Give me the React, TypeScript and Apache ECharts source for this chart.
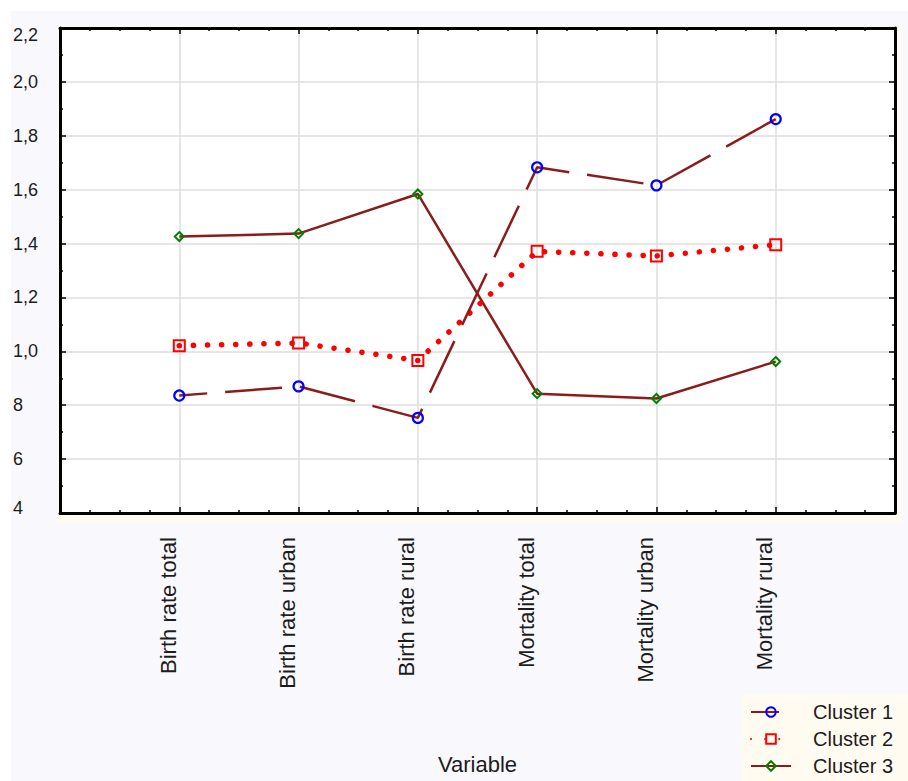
import React, { useEffect, useRef } from "react";
import * as echarts from "echarts";

const categories = [
  "Birth rate total",
  "Birth rate urban",
  "Birth rate rural",
  "Mortality total",
  "Mortality urban",
  "Mortality rural",
];
const seriesNames = ["Cluster 1", "Cluster 2", "Cluster 3"];
const cluster1 = [0.836, 0.87, 0.753, 1.683, 1.616, 1.862];
const cluster2 = [1.021, 1.031, 0.966, 1.371, 1.354, 1.396];
const cluster3 = [1.426, 1.437, 1.584, 0.843, 0.825, 0.962];
const yTickLabels = ["4", "6", "8", "1,0", "1,2", "1,4", "1,6", "1,8", "2,0", "2,2"];
const axisTitle = "Variable";

const Y_MIN = 0.4;
const Y_MAX = 2.2;
const Y_STEP = 0.2;

const FONT = "'Liberation Sans', Arial, sans-serif";
const TEXT = "#1c1c1c";
const LINE = "#8b1c1c";

export default function App() {
  const ref = useRef<HTMLDivElement>(null);

  useEffect(() => {
    if (!ref.current) return;
    const chart = echarts.init(ref.current, undefined, { renderer: "svg" });

    const toPoints = (vals: number[]) => vals.map((v, i) => [i + 1, v]);

    const frameAxisCommon = {
      type: "value" as const,
      axisLine: { show: true, onZero: false, lineStyle: { color: "#000", width: 3 } },
      axisTick: { show: true, inside: true, length: 6, lineStyle: { color: "#000", width: 1.5 } },
      minorTick: { show: true, length: 3, lineStyle: { color: "#000", width: 1.5 } },
    };

    const option: any = {
      animation: false,
      grid: {
        left: 60,
        right: 13,
        top: 28,
        bottom: 268,
        show: true,
        backgroundColor: "#ffffff",
        borderWidth: 0,
      },
      xAxis: [
        {
          ...frameAxisCommon,
          position: "bottom",
          min: 0,
          max: 7,
          interval: 1,
          minorTick: { ...frameAxisCommon.minorTick, splitNumber: 4 },
          splitLine: { show: true, lineStyle: { color: "#dedede", width: 1.5 } },
          axisLabel: {
            show: true,
            rotate: 90,
            margin: 24,
            verticalAlign: "bottom",
            fontSize: 22,
            fontFamily: FONT,
            color: TEXT,
            formatter: (v: number) => categories[Math.round(v) - 1] ?? "",
          },
          name: axisTitle,
          nameLocation: "middle",
          nameGap: 240,
          nameTextStyle: { fontSize: 22, fontFamily: FONT, color: TEXT },
        },
        {
          ...frameAxisCommon,
          position: "top",
          min: 0,
          max: 7,
          interval: 1,
          minorTick: { ...frameAxisCommon.minorTick, splitNumber: 4 },
          splitLine: { show: false },
          axisLabel: { show: false },
        },
      ],
      yAxis: [
        {
          ...frameAxisCommon,
          position: "left",
          min: Y_MIN,
          max: Y_MAX,
          interval: Y_STEP,
          minorTick: { ...frameAxisCommon.minorTick, splitNumber: 2 },
          splitLine: { show: true, lineStyle: { color: "#dedede", width: 1.5 } },
          axisLabel: {
            show: true,
            align: "left",
            margin: 47,
            fontSize: 18,
            fontFamily: FONT,
            color: TEXT,
            formatter: (v: number) => {
              const i = Math.round((v - Y_MIN) / Y_STEP);
              const t = yTickLabels[i] ?? "";
              if (i === yTickLabels.length - 1) return "{top|" + t + "}";
              if (i === 0) return "{bot|" + t + "}";
              return t;
            },
            rich: {
              top: { padding: [14, 0, 0, 0], fontSize: 18, fontFamily: FONT, color: TEXT },
              bot: { padding: [0, 0, 10, 0], fontSize: 18, fontFamily: FONT, color: TEXT },
            },
          },
        },
        {
          ...frameAxisCommon,
          position: "right",
          min: Y_MIN,
          max: Y_MAX,
          interval: Y_STEP,
          minorTick: { ...frameAxisCommon.minorTick, splitNumber: 2 },
          splitLine: { show: false },
          axisLabel: { show: false },
        },
      ],
      legend: {
        show: true,
        orient: "vertical",
        left: 745,
        top: 697,
        itemWidth: 40,
        itemHeight: 12,
        itemGap: 7,
        data: seriesNames,
        textStyle: {
          fontSize: 20,
          lineHeight: 20,
          fontFamily: FONT,
          color: TEXT,
          padding: [0, 0, 0, 17],
        },
      },
      series: [
        {
          name: seriesNames[0],
          type: "line",
          xAxisIndex: 0,
          yAxisIndex: 0,
          data: toPoints(cluster1),
          symbol: "circle",
          symbolSize: 10,
          itemStyle: { color: "rgba(255,255,255,0)", borderColor: "#0000ff", borderWidth: 2.2 },
          lineStyle: { color: LINE, width: 2.5, type: [57, 18], dashOffset: 29 },
          z: 4,
        },
        {
          name: seriesNames[1],
          type: "line",
          xAxisIndex: 0,
          yAxisIndex: 0,
          data: toPoints(cluster2),
          symbol: "rect",
          symbolSize: 11,
          itemStyle: { color: "rgba(255,255,255,0)", borderColor: "#ff0000", borderWidth: 2 },
          lineStyle: { color: "#ff0000", width: 5.5, type: [0.1, 14], cap: "round" },
          z: 3,
        },
        {
          name: seriesNames[2],
          type: "line",
          xAxisIndex: 0,
          yAxisIndex: 0,
          data: toPoints(cluster3),
          symbol: "diamond",
          symbolSize: 9,
          itemStyle: { color: "rgba(255,255,255,0)", borderColor: "#008000", borderWidth: 2 },
          lineStyle: { color: LINE, width: 2.5 },
          z: 2,
        },
      ],
    };

    chart.setOption(option);
    return () => chart.dispose();
  }, []);

  return (
    <div style={{ position: "absolute", left: 0, top: 0, width: 908, height: 781, background: "#ffffff", overflow: "hidden" }}>
      <div style={{ position: "absolute", left: 11, top: 11, right: 0, bottom: 0, background: "#f9f8fd" }} />
      <div style={{ position: "absolute", left: 58, top: 26, width: 843, height: 497, background: "#fffaf0" }} />
      <div style={{ position: "absolute", left: 742, top: 695, right: 0, bottom: 0, background: "#fffbf0" }} />
      <div ref={ref} style={{ position: "absolute", left: 0, top: 0, width: 908, height: 781 }} />
    </div>
  );
}
